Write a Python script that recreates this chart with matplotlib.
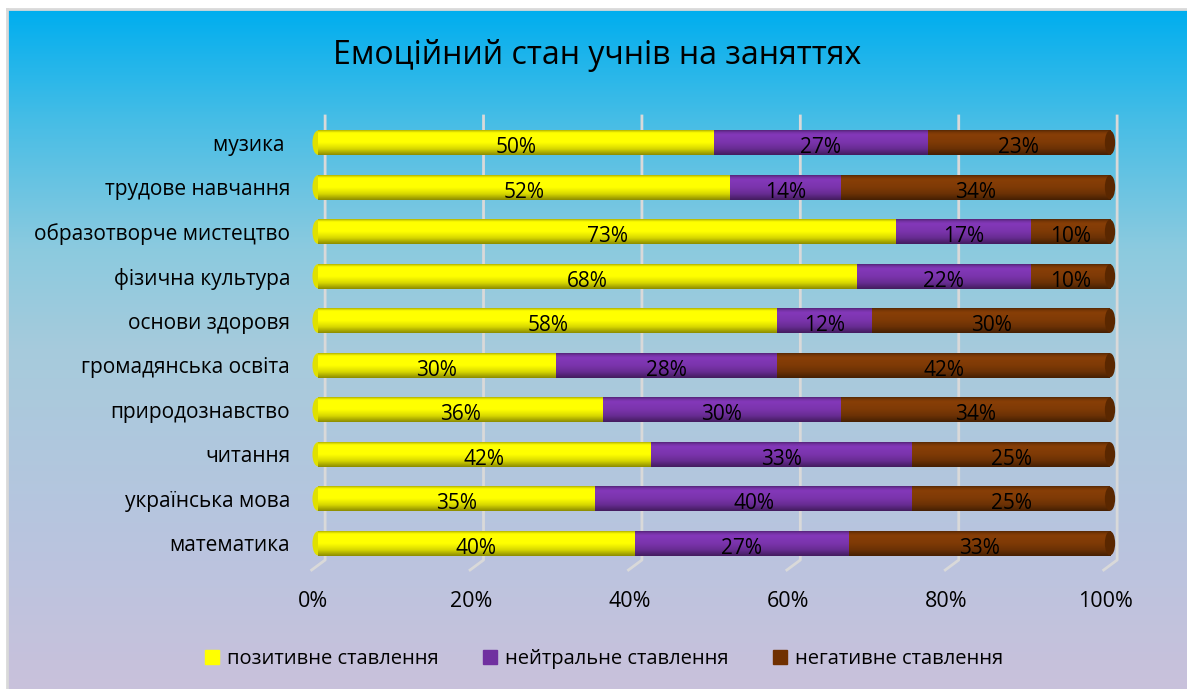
import numpy as np
import matplotlib
matplotlib.use("Agg")
import matplotlib.pyplot as plt
from matplotlib.colors import LinearSegmentedColormap, to_rgb
from matplotlib.patches import Ellipse, Patch
from matplotlib.transforms import ScaledTranslation

# data (bottom to top)
subjects = ["математика", "українська мова", "читання", "природознавство",
            "громадянська освіта", "основи здоровя", "фізична культура",
            "образотворче мистецтво", "трудове навчання", "музика "]
positive = [40, 35, 42, 36, 30, 58, 68, 73, 52, 50]
neutral = [27, 40, 33, 30, 28, 12, 22, 17, 14, 27]
negative = [33, 25, 25, 34, 42, 30, 10, 10, 34, 23]

series_names = ["позитивне ставлення", "нейтральне ставлення", "негативне ставлення"]
series_colors = ["#FFFF00", "#7A34AC", "#7E3A06"]
xticks = [0, 20, 40, 60, 80, 100]

plt.rcParams['font.family'] = ['Open Sans', 'DejaVu Sans']

fig = plt.figure(figsize=(11.87, 6.89), dpi=100, facecolor="white")

# background panel with vertical gradient
bg = fig.add_axes([7 / 1187, 0, 1 - 7 / 1187, 680 / 689])
bg_cmap = LinearSegmentedColormap.from_list("bg", [
    (0.0, "#00AEEF"), (0.16, "#45BDE6"), (0.35, "#8BCADF"),
    (0.5, "#A6CBDC"), (0.8, "#BAC4DF"), (1.0, "#C9C1DB")])
bg.imshow(np.linspace(0, 1, 256).reshape(-1, 1), cmap=bg_cmap, aspect="auto",
          extent=[0, 1, 0, 1])
bg.set_xticks([])
bg.set_yticks([])
for side in ["right", "bottom"]:
    bg.spines[side].set_visible(False)
for side in ["left", "top"]:
    bg.spines[side].set_color("#D9D9D9")
    bg.spines[side].set_linewidth(2)

ax = fig.add_axes([318 / 1187, 1 - 570 / 689, 792 / 1187, 454 / 689])
ax.patch.set_alpha(0)

ypos = np.arange(len(subjects))
bar_h = 0.56

# 3d-ish gridlines (back wall + floor)
for t in xticks:
    ax.plot([t - 0.8, t + 0.9, t + 0.9], [0, 0.022, 1], color="#D9D9D9", lw=2,
            transform=ax.get_xaxis_transform(), zorder=1, clip_on=False)

# cylinder shading profile, top -> bottom
tt = np.linspace(0, 1, 64)
shade = np.interp(tt, [0, 0.08, 0.18, 0.5, 0.75, 1.0], [0.7, 0.95, 1.08, 1.0, 0.85, 0.55])

left = np.zeros(len(subjects))
for vals, col, name in zip([positive, neutral, negative], series_colors, series_names):
    vals = np.array(vals)
    bars = ax.barh(ypos, vals, left=left, height=bar_h, color=col, zorder=3, label=name)
    grad = np.clip(np.array(to_rgb(col))[None, None, :] * shade[:, None, None], 0, 1)
    for b, v, l, y in zip(bars, vals, left, ypos):
        im = ax.imshow(grad, extent=[b.get_x(), b.get_x() + b.get_width(),
                                     b.get_y(), b.get_y() + b.get_height()],
                       aspect="auto", zorder=4, interpolation="bilinear")
        im.set_clip_path(b)
        ax.text(l + v / 2, y - 0.11, f"{v}%", ha="center", va="center",
                fontsize=15, color="black", zorder=6)
    left = left + vals

# rounded front end and dark back cap
for y in ypos:
    ax.add_patch(Ellipse((0, y), 1.4, bar_h * 0.97, facecolor="#E0E000",
                         edgecolor="none", zorder=2, clip_on=False))
    ax.add_patch(Ellipse((100, y), 1.3, bar_h * 0.97, facecolor="#5A2700",
                         edgecolor="none", zorder=5, clip_on=False))

ax.set_xlim(0, 100)
ax.set_ylim(-0.6, len(subjects) - 0.4)
ax.set_xticks(xticks)
ax.set_xticklabels([f"{t}%" for t in xticks])
ax.set_yticks(ypos)
ax.set_yticklabels(subjects)
ax.tick_params(axis="x", length=0, pad=15, labelsize=15.5)
ax.tick_params(axis="y", length=0, pad=20, labelsize=15)
for lab in ax.get_xticklabels():
    lab.set_transform(lab.get_transform() + ScaledTranslation(-0.05, 0, fig.dpi_scale_trans))
for s in ax.spines.values():
    s.set_visible(False)

fig.text(0.503, 1 - 55 / 689, "Емоційний стан учнів на заняттях",
         ha="center", va="center", fontsize=23)

handles = [Patch(color=c, label=n) for c, n in zip(["#FFFF00", "#7030A0", "#703000"], series_names)]
fig.legend(handles=handles, loc="center", bbox_to_anchor=(0.509, 1 - 659 / 689),
           ncol=3, frameon=False, fontsize=14.5, handlelength=0.7, handleheight=0.7,
           handletextpad=0.4, columnspacing=2.2)

fig.savefig("out.png", dpi=100, facecolor="white")
